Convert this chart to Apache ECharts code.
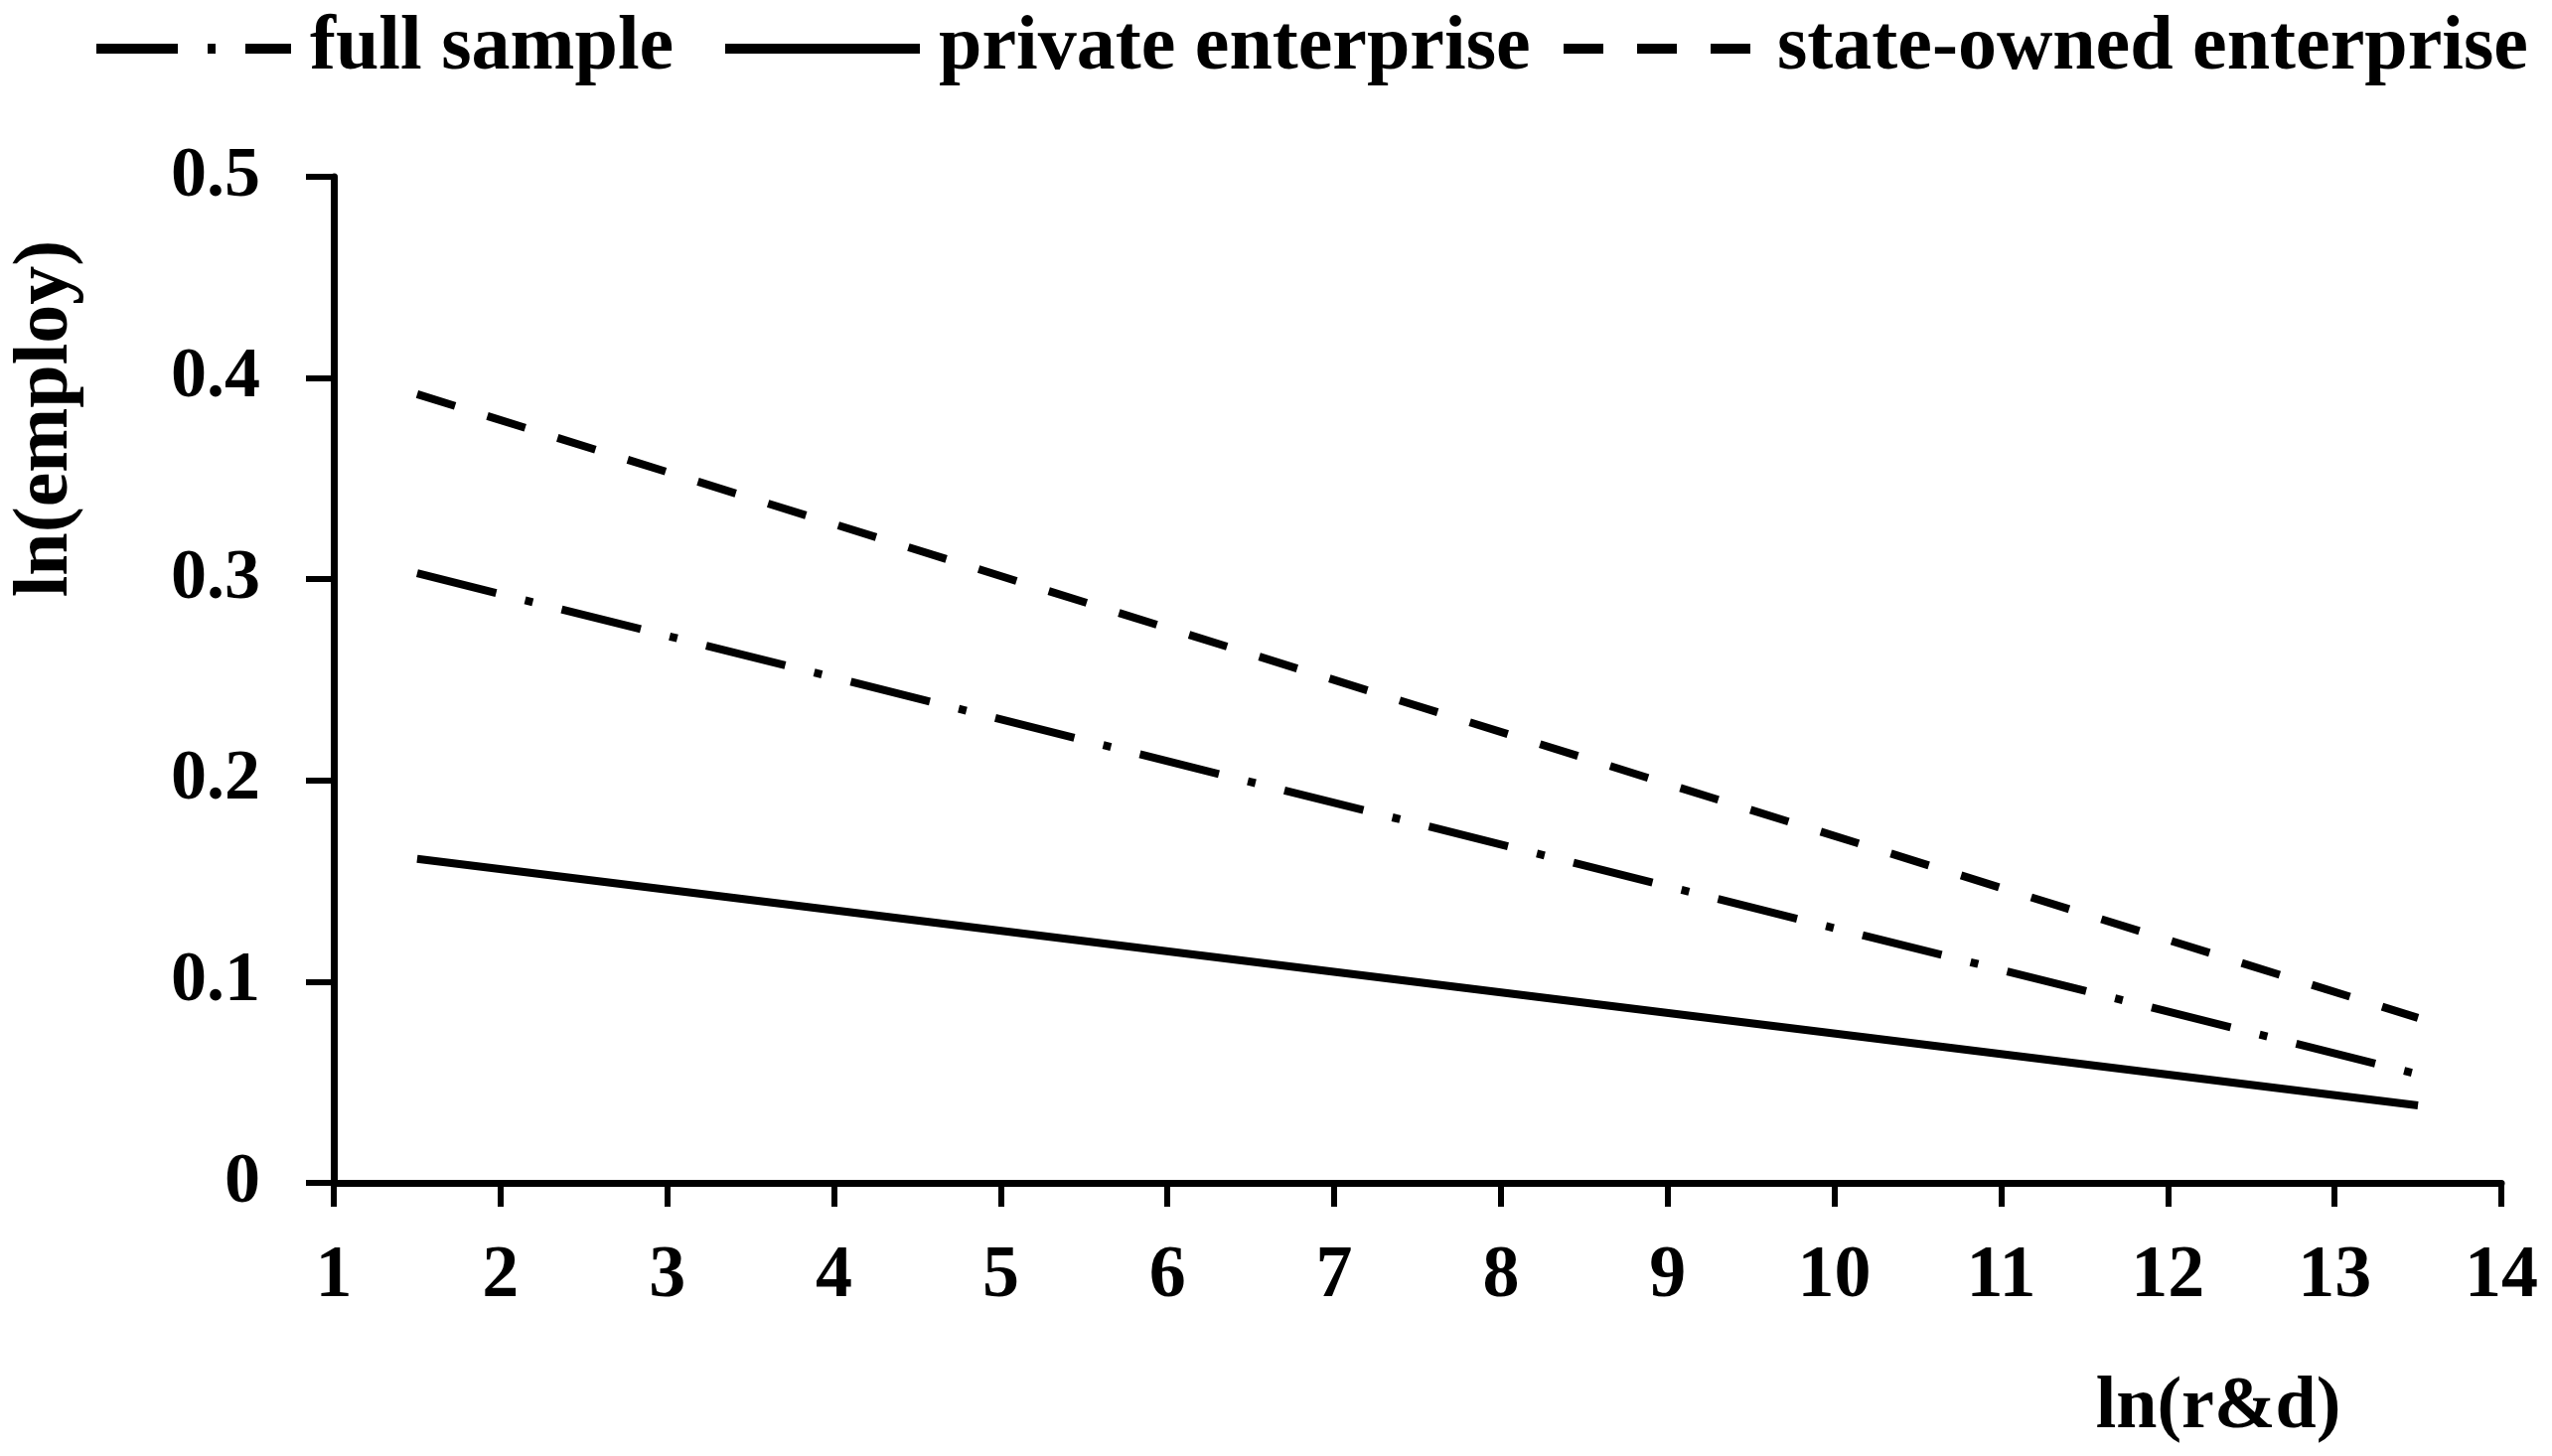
<!DOCTYPE html>
<html>
<head>
<meta charset="utf-8">
<script src="https://cdn.jsdelivr.net/npm/echarts@6/dist/echarts.min.js"></script>
<style>
html,body{margin:0;padding:0;background:#fff;}
#chart{width:2569px;height:1466px;}
</style>
</head>
<body>
<div id="chart"></div>
<script>
// ---- data ----
var seriesNames = ['full sample', 'private enterprise', 'state-owned enterprise'];
var xValues = [1.5, 13.5];
var fullSample = [0.303, 0.054];
var privateEnterprise = [0.161, 0.0385];
var stateOwned = [0.392, 0.082];
var xTicks = [1, 2, 3, 4, 5, 6, 7, 8, 9, 10, 11, 12, 13, 14];
var yTicks = [0, 0.1, 0.2, 0.3, 0.4, 0.5];

function pairs(ys) { return xValues.map(function (x, i) { return [x, ys[i]]; }); }

var FONT = 'Liberation Serif';
var chart = echarts.init(document.getElementById('chart'), null, {renderer: 'canvas'});

function legendFor(name, left) {
  return {
    data: [name],
    left: left,
    top: 4,
    orient: 'horizontal',
    itemWidth: 196,
    itemHeight: 14,
    itemStyle: {color: 'rgba(0,0,0,0)', borderWidth: 0},
    lineStyle: {width: 10},
    textStyle: {fontFamily: FONT, fontWeight: 'bold', fontSize: 78, color: '#000', lineHeight: 80, padding: [0, 0, 0, 14]},
    selectedMode: false
  };
}

var option = {
  backgroundColor: '#fff',
  animation: false,
  legend: [
    legendFor(seriesNames[0], 87),
    legendFor(seriesNames[1], 720),
    legendFor(seriesNames[2], 1564)
  ],
  grid: {left: 336, right: 51, top: 178, bottom: 275, containLabel: false},
  xAxis: {
    type: 'value',
    min: xTicks[0],
    max: xTicks[xTicks.length - 1],
    interval: 1,
    name: 'ln(r&d)',
    nameLocation: 'middle',
    nameGap: 190,
    nameTextStyle: {fontFamily: FONT, fontWeight: 'bold', fontSize: 74, color: '#000', lineHeight: 74, padding: [0, 0, 0, 1612]},
    axisLine: {show: true, onZero: false, lineStyle: {color: '#000', width: 7}},
    axisTick: {show: true, inside: false, length: 24, lineStyle: {color: '#000', width: 6}},
    axisLabel: {margin: 58, fontFamily: FONT, fontWeight: 'bold', fontSize: 74, color: '#000', lineHeight: 74},
    splitLine: {show: false}
  },
  yAxis: {
    type: 'value',
    min: yTicks[0],
    max: yTicks[yTicks.length - 1],
    interval: 0.1,
    name: 'ln(employ)',
    nameLocation: 'middle',
    nameRotate: 90,
    nameGap: 250,
    nameTextStyle: {fontFamily: FONT, fontWeight: 'bold', fontSize: 78, color: '#000', lineHeight: 78, padding: [0, 0, 0, 526]},
    axisLine: {show: true, lineStyle: {color: '#000', width: 7}},
    axisTick: {show: true, inside: false, length: 28, lineStyle: {color: '#000', width: 6}},
    axisLabel: {margin: 74, fontFamily: FONT, fontWeight: 'bold', fontSize: 72, color: '#000',
      formatter: function (v) { return v === 0 ? '0' : v.toFixed(1); }},
    splitLine: {show: false}
  },
  series: [
    {name: seriesNames[0], type: 'line', data: pairs(fullSample), symbol: 'none',
      lineStyle: {color: '#000', width: 8, type: [82, 30, 8, 30], cap: 'butt'}, itemStyle: {color: '#000'}},
    {name: seriesNames[1], type: 'line', data: pairs(privateEnterprise), symbol: 'none',
      lineStyle: {color: '#000', width: 8, type: 'solid'}, itemStyle: {color: '#000'}},
    {name: seriesNames[2], type: 'line', data: pairs(stateOwned), symbol: 'none',
      lineStyle: {color: '#000', width: 8, type: [40, 34], cap: 'butt'}, itemStyle: {color: '#000'}}
  ]
};
chart.setOption(option);
</script>
</body>
</html>
